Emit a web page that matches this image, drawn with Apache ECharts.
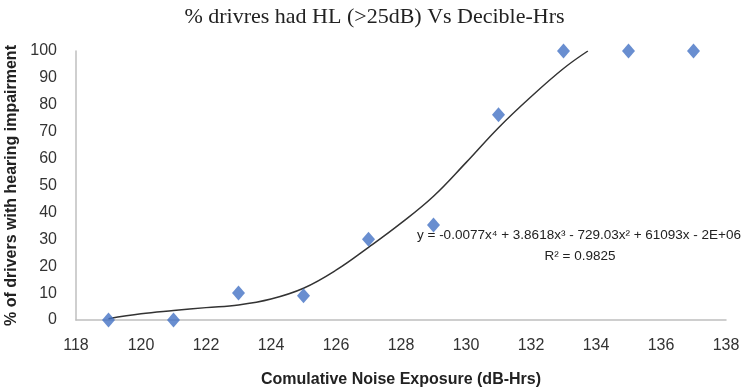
<!DOCTYPE html>
<html>
<head>
<meta charset="utf-8">
<script src="https://cdn.jsdelivr.net/npm/echarts@6/dist/echarts.min.js"></script>
<style>html,body{margin:0;padding:0;background:#fff;}#c{width:749px;height:391px;}</style>
</head>
<body>
<div id="c"></div>
<script>
// Observed data
var exposure = [119, 121, 123, 125, 127, 129, 131, 133, 135, 137];
var pctImpaired = [0, 0, 10, 9, 30, 35.3, 76.3, 100, 100, 100];
// Polynomial trend line
var trendX = [119, 120, 121, 122, 123, 124, 125, 126, 127, 128, 129, 130, 131, 132, 133, 133.75];
var trendY = [0.5, 2.3, 3.5, 4.6, 5.6, 7.8, 11.8, 18.5, 27, 36, 46, 58.5, 71.5, 83, 93.5, 100];
var xTicks = [118, 138, 2];
var yTicks = [0, 100, 10];
var titleText = '% drivres had HL (>25dB) Vs Decible-Hrs';
var xTitle = 'Comulative Noise Exposure (dB-Hrs)';
var yTitle = '% of drivers with hearing impairment';
var eqLine1 = 'y = -0.0077x\u2074 + 3.8618x\u00b3 - 729.03x\u00b2 + 61093x - 2E+06';
var eqLine2 = 'R\u00b2 = 0.9825';

var chart = echarts.init(document.getElementById('c'), null, {renderer: 'canvas'});
var points = exposure.map(function (x, i) { return [x, pctImpaired[i]]; });
var trend = trendX.map(function (x, i) { return [x, trendY[i]]; });
var labelFont = '"Liberation Sans", Arial, sans-serif';
chart.setOption({
  animation: false,
  backgroundColor: '#ffffff',
  title: {
    text: titleText,
    left: 'center',
    top: 1,
    textStyle: {fontFamily: '"Liberation Serif", "Times New Roman", serif', fontWeight: 'normal', fontSize: 22, color: '#222'}
  },
  grid: {left: 76, right: 23, top: 51, bottom: 71, containLabel: false, outerBoundsMode: 'none'},
  xAxis: {
    type: 'value', min: xTicks[0], max: xTicks[1], interval: xTicks[2],
    name: xTitle, nameLocation: 'middle', nameGap: 52,
    nameTextStyle: {fontFamily: labelFont, fontWeight: 'bold', fontSize: 16, color: '#222'},
    axisLine: {show: true, lineStyle: {color: '#bfbfbf', width: 1.5}},
    axisTick: {show: false},
    splitLine: {show: false},
    axisLabel: {fontFamily: labelFont, fontSize: 16, color: '#333', margin: 18}
  },
  yAxis: {
    type: 'value', min: yTicks[0], max: yTicks[1], interval: yTicks[2],
    name: yTitle, nameLocation: 'middle', nameGap: 53, nameRotate: 90,
    nameTextStyle: {fontFamily: labelFont, fontWeight: 'bold', fontSize: 16, color: '#222'},
    axisLine: {show: true, lineStyle: {color: '#bfbfbf', width: 1.5}},
    axisTick: {show: false},
    splitLine: {show: false},
    axisLabel: {fontFamily: labelFont, fontSize: 16, color: '#333', margin: 19}
  },
  series: [
    {
      type: 'line', data: trend, smooth: 0.4, showSymbol: false, symbol: 'none',
      lineStyle: {color: '#333', width: 1.5}, z: 2
    },
    {
      type: 'scatter', data: points, symbol: 'diamond', symbolSize: [13, 15],
      itemStyle: {color: '#4472C4'}, z: 3
    }
  ],
  graphic: [
    {type: 'text', x: 579, y: 235, style: {text: eqLine1, fontFamily: labelFont, fontSize: 13.5, fill: '#222', align: 'center', verticalAlign: 'middle'}},
    {type: 'text', x: 580, y: 256, style: {text: eqLine2, fontFamily: labelFont, fontSize: 13.5, fill: '#222', align: 'center', verticalAlign: 'middle'}}
  ]
});
</script>
</body>
</html>
